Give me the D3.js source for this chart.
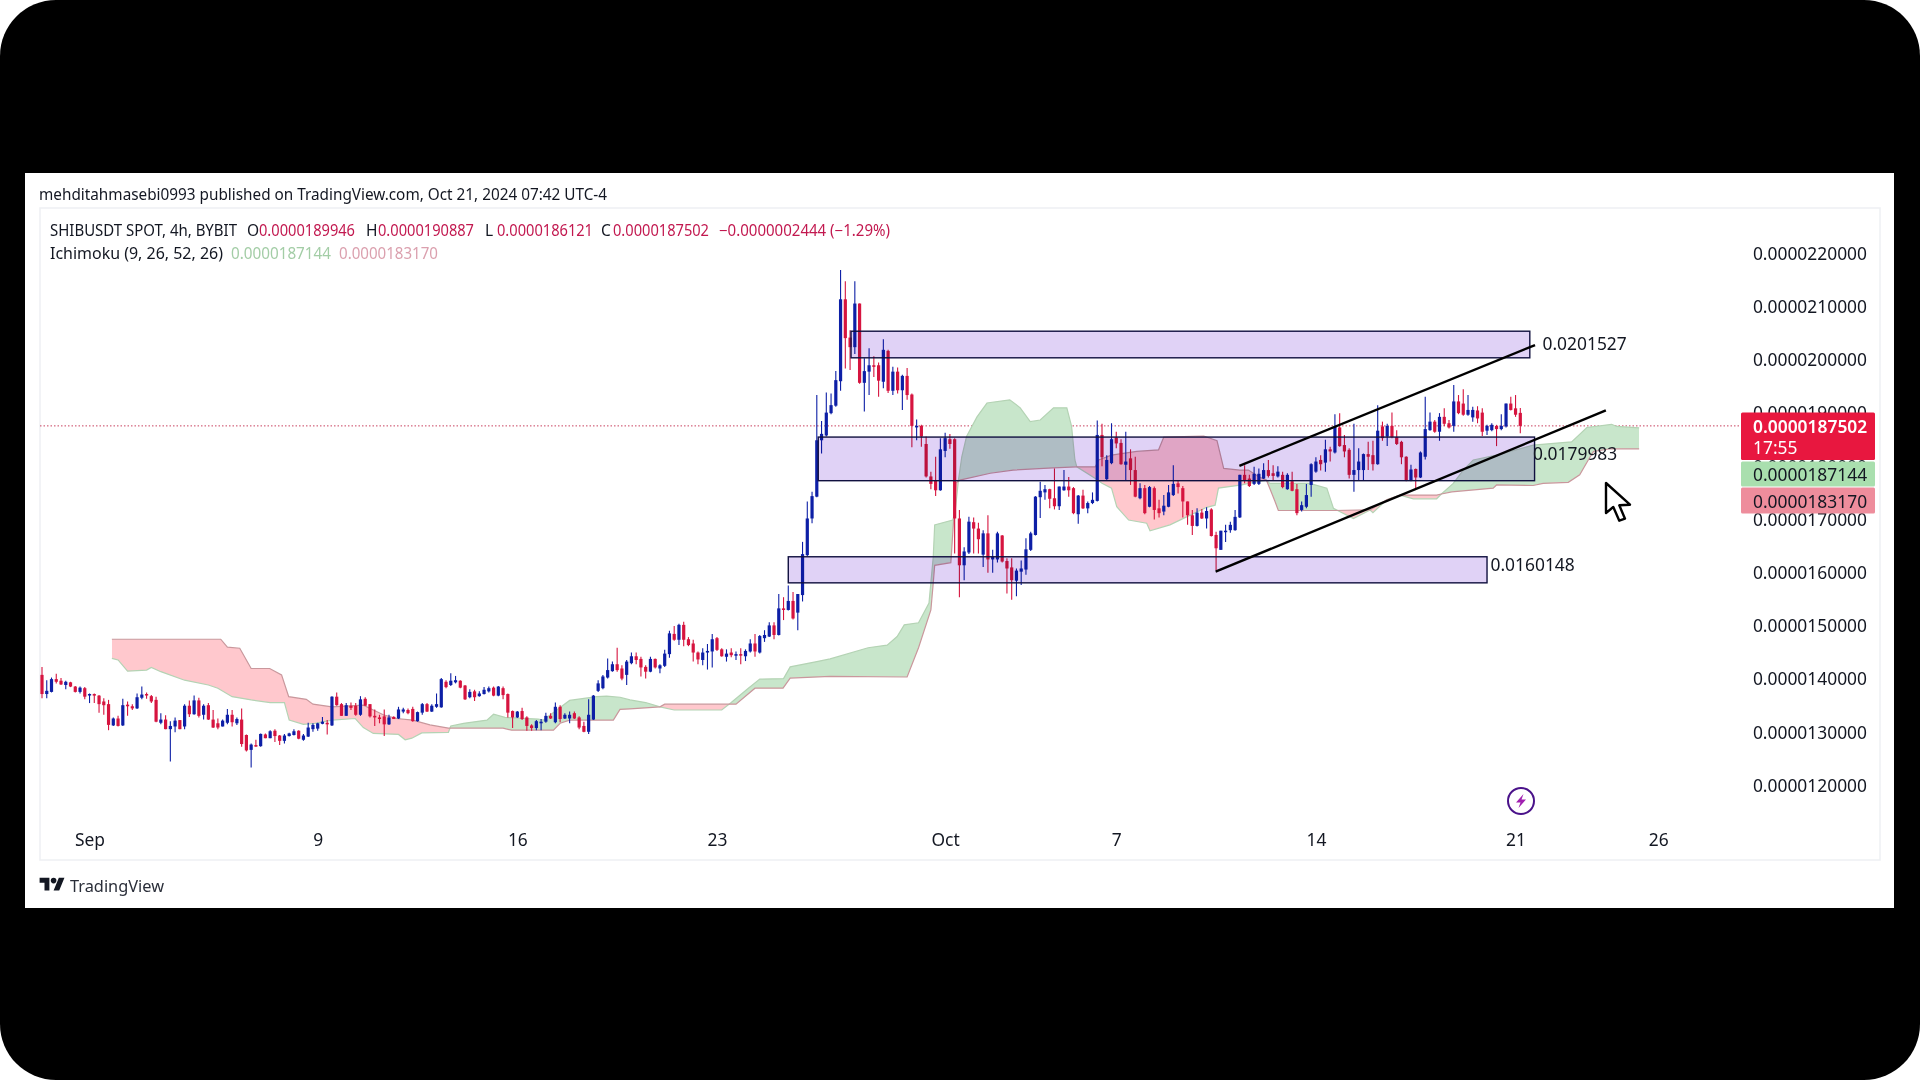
<!DOCTYPE html>
<html>
<head>
<meta charset="utf-8">
<script src="https://cdn.jsdelivr.net/npm/d3@7"></script>
<style>
html, body { margin: 0; padding: 0; background: #fff; }
svg { display: block; }
text { font-family: "Noto Sans", sans-serif; fill: #131722; }
</style>
</head>
<body>
<svg id="chart" width="1920" height="1080"></svg>
<script>
// prices are in millionths, [open, high, low, close], one row per 4h candle
var candlesEarlySep = [
    [14.07,14.22,13.63,13.71],[13.71,13.97,13.63,13.77],[13.75,14.02,13.74,13.99],[13.99,14.09,13.91,13.94],[13.96,14.01,13.88,13.89],
    [13.88,13.96,13.80,13.94],[13.93,13.94,13.84,13.85],[13.85,13.86,13.74,13.75],[13.75,13.85,13.72,13.83],[13.82,13.84,13.61,13.66],
    [13.69,13.72,13.54,13.71],[13.71,13.72,13.54,13.68],[13.68,13.69,13.36,13.52],[13.57,13.63,13.32,13.50],[13.52,13.60,13.03,13.13],
    [13.12,13.27,13.11,13.25],[13.25,13.30,13.10,13.11],[13.12,13.62,13.11,13.50],[13.51,13.57,13.30,13.48],[13.48,13.52,13.41,13.44],
    [13.44,13.72,13.43,13.65],[13.64,13.85,13.61,13.70],[13.71,13.74,13.62,13.69],[13.67,13.69,13.54,13.57],[13.60,13.66,13.18,13.19],
    [13.17,13.35,13.14,13.23],[13.23,13.31,13.05,13.05],[13.05,13.20,12.44,13.11],[13.10,13.27,12.99,13.21],[13.22,13.22,13.05,13.05],
    [13.10,13.52,13.05,13.49],[13.49,13.59,13.28,13.33],[13.33,13.68,13.32,13.59],[13.59,13.64,13.27,13.30],[13.32,13.52,13.23,13.49],
    [13.50,13.54,13.22,13.23],[13.23,13.41,13.07,13.08],[13.16,13.25,13.05,13.08],[13.10,13.23,13.10,13.21],[13.17,13.43,13.14,13.32],
    [13.32,13.41,13.10,13.18],[13.16,13.27,13.13,13.24],[13.23,13.44,12.72,12.77],[12.94,12.95,12.63,12.65],[12.66,12.78,12.33,12.76],
    [12.75,12.85,12.72,12.73],[12.73,12.97,12.72,12.96],[12.95,12.97,12.88,12.88],[12.88,13.03,12.88,13.01],[13.02,13.05,12.81,12.92],
    [12.93,12.94,12.75,12.83],[12.83,12.96,12.78,12.93],[12.92,12.98,12.91,12.97],[12.94,13.05,12.93,13.01],[13.02,13.03,12.86,12.87],
    [12.85,12.96,12.83,12.93],[12.91,13.17,12.90,13.08],[13.05,13.16,13.00,13.13],[13.06,13.17,13.02,13.16],[13.15,13.28,13.14,13.19],
    [13.17,13.22,12.95,13.14]
];
var candlesMidSep = [
    [13.12,13.67,13.11,13.66],[13.66,13.74,13.49,13.50],[13.52,13.54,13.30,13.30],[13.30,13.54,13.30,13.50],[13.49,13.55,13.41,13.45],
    [13.49,13.54,13.30,13.32],[13.32,13.67,13.30,13.61],[13.62,13.65,13.49,13.49],[13.52,13.52,13.27,13.29],[13.30,13.42,13.11,13.27],
    [13.27,13.32,13.16,13.24],[13.29,13.42,12.92,13.14],[13.14,13.32,13.13,13.27],[13.28,13.29,13.24,13.24],[13.25,13.47,13.24,13.42],
    [13.38,13.45,13.35,13.42],[13.41,13.44,13.33,13.35],[13.43,13.47,13.19,13.20],[13.20,13.38,13.19,13.37],[13.36,13.54,13.32,13.52],
    [13.52,13.54,13.37,13.38],[13.38,13.52,13.37,13.49],[13.47,13.72,13.45,13.52],[13.46,14.01,13.45,13.99],[13.94,13.97,13.82,13.84],
    [13.88,14.10,13.86,13.96],[13.93,14.05,13.91,13.97],[13.96,13.97,13.82,13.83],[13.87,13.88,13.60,13.61],[13.65,13.80,13.63,13.75],
    [13.76,13.79,13.58,13.65],[13.67,13.76,13.66,13.72],[13.71,13.84,13.70,13.79],[13.76,13.85,13.74,13.82],[13.83,13.85,13.67,13.68],
    [13.68,13.86,13.67,13.85],[13.82,13.85,13.61,13.69],[13.71,13.72,13.27,13.36],[13.39,13.40,13.07,13.27],[13.27,13.39,13.26,13.38],
    [13.39,13.45,13.22,13.24],[13.27,13.29,13.02,13.11],[13.12,13.14,13.02,13.07],[13.07,13.22,13.03,13.20],[13.16,13.24,13.03,13.19],
    [13.19,13.36,13.17,13.30],[13.30,13.35,13.24,13.25],[13.18,13.55,13.16,13.47],[13.47,13.50,13.18,13.24],[13.25,13.35,13.24,13.32],
    [13.25,13.38,13.16,13.32],[13.35,13.38,13.24,13.25],[13.27,13.29,13.05,13.08],[13.11,13.19,12.99,13.00],[13.00,13.61,12.96,13.32],
    [13.23,13.69,13.22,13.68]
];
var candlesLateSep = [
    [13.77,13.97,13.75,13.91],[13.82,14.07,13.80,14.04],[14.02,14.38,14.00,14.16],[14.14,14.32,14.13,14.27],[14.27,14.58,14.13,14.16],
    [14.19,14.25,13.97,14.00],[14.07,14.35,13.88,14.32],[14.29,14.49,14.27,14.42],[14.42,14.49,14.27,14.35],[14.37,14.41,14.04,14.21],
    [14.22,14.25,14.00,14.13],[14.13,14.41,14.12,14.37],[14.37,14.38,14.19,14.21],[14.19,14.27,14.10,14.25],[14.24,14.54,14.22,14.47],
    [14.46,14.90,14.39,14.85],[14.84,14.99,14.71,14.73],[14.73,15.03,14.63,15.01],[15.01,15.07,14.61,14.73],[14.74,14.78,14.61,14.63],
    [14.66,14.73,14.32,14.49],[14.49,14.51,14.27,14.36],[14.35,14.57,14.25,14.49],[14.49,14.65,14.17,14.52],[14.51,14.84,14.21,14.74],
    [14.76,14.78,14.52,14.54],[14.55,14.57,14.41,14.42],[14.41,14.55,14.32,14.47],[14.49,14.57,14.40,14.44],[14.43,14.51,14.35,14.46],
    [14.46,14.57,14.27,14.44],[14.42,14.55,14.33,14.52],[14.51,14.74,14.49,14.66],[14.66,14.84,14.41,14.51],[14.49,14.82,14.47,14.80],
    [14.76,14.91,14.69,14.82],[14.79,15.06,14.78,15.00],[15.00,15.06,14.74,14.82],[14.82,15.59,14.81,15.32],[15.32,15.53,15.10,15.29],
    [15.29,15.75,15.28,15.46],[15.46,15.63,15.11,15.13],[15.24,15.59,14.91,15.59],[15.57,16.57,15.45,16.34],[16.32,17.33,16.30,17.01]
];
var candlesEarlyOct = [
    [17.01,17.51,16.92,17.43],[17.42,19.33,17.41,18.48],[18.48,18.84,18.23,18.60],[18.57,19.38,18.55,19.00],[18.99,19.36,18.97,19.14],
    [19.13,19.78,19.11,19.61],[19.59,21.68,19.41,21.13],[21.13,21.47,19.83,20.40],[20.41,20.55,19.80,20.23],[20.23,21.47,20.10,21.05],
    [21.05,21.05,19.54,19.56],[19.56,20.02,19.02,19.78],[19.77,20.21,19.33,19.89],[19.89,20.06,19.67,19.86],[19.89,19.94,19.30,19.60],
    [19.58,20.38,19.46,20.18],[20.16,20.18,19.37,19.41],[19.41,19.86,19.33,19.77],[19.77,19.85,19.36,19.42],[19.42,19.71,19.05,19.69],
    [19.69,19.84,19.24,19.33],[19.34,19.36,18.35,18.75],[18.73,18.87,18.48,18.75],[18.75,18.77,18.36,18.55],[18.41,18.55,17.78,17.80],
    [17.80,17.89,17.56,17.66],[17.73,18.17,17.43,17.54],[17.54,18.52,17.53,18.31],[18.28,18.62,18.16,18.52],[18.50,18.60,18.32,18.41],
    [18.50,18.52,16.35,17.01],[17.01,17.17,15.53,16.13],[16.13,16.47,15.85,16.39],[16.37,17.04,16.34,16.95],[16.94,17.03,16.35,16.82],
    [16.82,16.93,16.35,16.62],[16.33,16.79,16.10,16.73],[16.73,17.07,15.99,16.24],[16.24,16.42,15.99,16.29],[16.24,16.76,16.18,16.73],
    [16.69,16.70,16.18,16.20],[16.21,16.26,15.60,16.07],[16.09,16.26,15.48,15.85],[15.84,16.07,15.55,16.03],[16.01,16.22,15.76,16.07],
    [16.05,16.64,15.95,16.43],[16.42,16.76,16.40,16.73],[16.70,17.43,16.69,17.42],[17.41,17.70,17.02,17.53],[17.50,17.64,17.36,17.56],
    [17.56,17.57,17.20,17.38],[17.39,17.95,17.18,17.24],[17.24,17.61,17.17,17.61],[17.54,17.92,17.53,17.61],[17.61,17.79,17.42,17.54]
];
var candlesMidOct = [
    [17.58,17.60,17.09,17.11],[17.09,17.45,16.91,17.44],[17.44,17.55,17.19,17.20],[17.20,17.33,17.11,17.30],[17.30,17.50,17.28,17.36],
    [17.34,18.85,17.33,18.58],[18.58,18.79,17.99,18.16],[17.75,18.20,17.73,18.11],[18.05,18.80,18.03,18.50],[18.53,18.64,18.33,18.42],
    [18.43,18.50,18.02,18.03],[18.02,18.64,17.73,18.08],[18.14,18.31,17.64,17.92],[17.92,18.17,17.41,17.42],[17.39,17.67,17.37,17.58],
    [17.58,17.64,17.09,17.11],[17.23,17.62,17.22,17.60],[17.58,17.61,16.99,17.17],[17.20,17.36,17.03,17.11],[17.14,17.45,17.07,17.25],
    [17.23,17.64,17.22,17.50],[17.45,18.01,17.43,17.66],[17.67,17.73,17.48,17.60],[17.58,17.62,17.03,17.33],[17.33,17.33,16.89,17.07],
    [17.07,17.17,16.70,16.87],[16.87,17.20,16.86,17.12],[17.12,17.19,17.00,17.01],[17.01,17.22,16.82,17.15],[17.18,17.20,16.67,16.68],
    [16.70,16.76,16.04,16.45],[16.42,16.78,16.42,16.78],[16.76,16.89,16.57,16.78],[16.79,16.95,16.74,16.89],[16.79,17.17,16.78,17.04],
    [17.03,17.83,17.02,17.83],[17.83,18.01,17.67,17.73],[17.76,17.83,17.60,17.62],[17.66,17.98,17.64,17.85],[17.66,17.95,17.64,17.85],
    [17.76,18.05,17.75,17.92],[17.92,18.11,17.78,17.81],[17.86,18.01,17.73,17.81],[17.80,17.99,17.78,17.89],[17.83,17.89,17.58,17.60],
    [17.56,17.86,17.55,17.83],[17.71,17.89,17.52,17.53],[17.56,17.66,17.07,17.11]
];
var candlesLateOct = [
    [17.17,17.33,17.14,17.26],[17.23,17.66,17.20,17.45],[17.64,18.05,17.42,18.03],[17.89,18.16,17.87,18.08],[18.11,18.20,17.91,18.03],
    [18.06,18.49,17.89,18.31],[18.31,18.36,18.08,18.27],[18.25,18.97,18.23,18.74],[18.72,18.99,18.36,18.37],[18.39,18.58,18.16,18.27],
    [18.30,18.33,17.76,17.83],[17.83,18.79,17.51,17.92],[17.92,18.33,17.73,18.08],[17.92,18.23,17.72,18.22],[18.22,18.45,17.92,18.17],
    [18.20,18.47,17.91,18.03],[18.03,19.14,18.02,18.66],[18.74,18.83,18.47,18.52],[18.55,18.79,18.37,18.75],[18.75,19.00,18.52,18.54],
    [18.54,18.67,18.39,18.41],[18.45,18.47,18.03,18.16],[18.17,18.18,17.71,17.72],[17.72,18.02,17.71,17.93],[17.94,17.95,17.58,17.78],
    [17.78,18.27,17.77,18.25],[18.17,19.30,18.12,18.69],[18.67,19.00,18.66,18.83],[18.83,18.86,18.62,18.64],[18.64,18.99,18.47,18.92],
    [18.92,19.08,18.75,18.79],[18.80,18.86,18.70,18.72],[18.75,19.52,18.64,19.21],[19.21,19.33,18.97,18.99],[19.17,19.44,18.94,18.96],
    [18.96,19.33,18.94,19.05],[18.91,19.11,18.83,19.05],[19.04,19.12,18.80,18.89],[19.00,19.08,18.56,18.64],[18.66,18.77,18.58,18.75],
    [18.67,18.80,18.65,18.77],[18.75,18.77,18.37,18.69],[18.69,18.97,18.67,18.75],[18.74,19.17,18.72,19.17],[19.17,19.30,19.04,19.05],
    [19.08,19.33,18.92,18.96],[18.9946,19.0887,18.6121,18.7502]
];

// cloud outlines, [candle number, price]
var spanA = [
    [14.7,14.38],[16,14.35],[18,14.14],[22,14.16],[23,14.21],[25,14.13],[30,13.97],[35,13.88],[37,13.82],[40,13.66],
    [44,13.60],[48,13.55],[51,13.55],[52,13.22],[55,13.14],[57.4,13.16],[61,13.22],[65.9,13.25],[67.6,13.08],[69.7,12.97],
    [75,12.95],[76.4,12.85],[77.8,12.88],[79.9,12.98],[85.5,12.99],[86,13.11],[88.7,13.16],[93.6,13.22],[95,13.33],[97.4,13.27],
    [104.4,13.24],[105.5,13.22],[108.3,13.41],[111,13.59],[116.7,13.66],[118.8,13.67],[121.6,13.65],[123.7,13.60],[127,13.55],[130,13.47],
    [133,13.41],[143,13.41],[145,13.55],[148.6,13.82],[151,13.99],[156,14.00],[157.4,14.22],[163,14.32],[165.8,14.37],[173.8,14.58],
    [177.8,14.63],[179.9,14.79],[181.4,15.01],[184.4,15.05],[186.6,15.42],[187.5,16.29],[187.8,16.89],[191.6,16.98],[192.1,17.14],[192.8,17.73],
    [193.5,18.17],[194.5,18.55],[196.7,18.92],[198.8,19.18],[203.6,19.24],[205.8,19.09],[207.9,18.83],[210,18.86],[212.8,19.09],[215.6,19.09],
    [216.6,18.74],[217.3,18.11],[217.7,17.98],[221.6,17.76],[223,17.67],[225,17.58],[226.1,17.23],[228.6,16.98],[232.4,16.92],[233.1,16.78],
    [237.3,16.89],[240.8,17.04],[245,17.22],[246.8,17.26],[247.5,17.58],[252.4,17.64],[253.8,17.67],[257.6,17.73],[258.3,17.67],[266.7,17.67],
    [270.3,17.58],[271.7,17.20],[275.9,17.01],[279.4,17.17],[280,17.12],[282.9,17.36],[285.7,17.45],[288.5,17.38],[293.4,17.38],[294.4,17.47],
    [296.9,17.67],[299,17.92],[301.1,18.11],[306,18.20],[313.7,18.39],[321.8,18.45],[325,18.72],[330.2,18.78],[331.3,18.74],[336,18.7144]
];
var spanB = [
    [14.7,14.74],[37.6,14.74],[39,14.59],[41.6,14.57],[44,14.19],[47.9,14.19],[50.4,14.07],[51.9,13.66],[55.6,13.61],[57,13.52],
    [61,13.47],[67.6,13.50],[69.7,13.41],[71.8,13.32],[74.6,13.25],[78,13.22],[81.6,13.13],[85.5,13.07],[97,13.07],[98.8,13.03],
    [107.6,13.03],[109,13.16],[111,13.22],[120.2,13.22],[121.6,13.42],[123.7,13.43],[130,13.47],[131,13.52],[146,13.52],[150,13.82],
    [155.9,13.82],[157.4,14.01],[165.8,14.04],[182,14.03],[184.4,14.58],[187,15.29],[187.5,15.80],[187.8,16.13],[191.2,16.18],[192.3,17.68],
    [193.1,17.73],[199.5,17.86],[204.3,17.92],[212.7,17.96],[217.7,17.98],[221.6,17.98],[222.3,18.11],[225,18.20],[230.3,18.27],[234.9,18.30],
    [236,18.54],[244.4,18.56],[247.2,18.47],[248.6,17.95],[252,17.92],[253.8,17.92],[255.9,17.80],[257.6,17.73],[259.4,17.33],[260.1,17.16],
    [271.7,17.16],[279.4,17.17],[282.9,17.36],[285.7,17.45],[293.4,17.45],[294.4,17.47],[296.6,17.51],[305.3,17.58],[306,17.64],[313.7,17.63],
    [315.8,17.67],[321.1,17.69],[323.5,17.83],[325.3,18.11],[326.4,18.27],[329.9,18.32],[336,18.317]
];

// drawn zones: [first candle, last candle, top price, bottom price]
var zones = [
    [170.2,313,20.53,20.03],
    [163.3,314,18.54,17.72],
    [157,304,16.29,15.80]
];
// channel lines: [candle, price, candle, price]
var channelLines = [
    [251.9,18.00,314.1,20.27],
    [246.9,16.01,329,19.04]
];
var zoneLabels = ["0.0201527", "0.0179983", "0.0160148"];

var priceTicks = [12, 13, 14, 15, 16, 17, 18, 19, 20, 21, 22];
var dateTicks = ["2024-09-01", "2024-09-09", "2024-09-16", "2024-09-23", "2024-10-01", "2024-10-07", "2024-10-14", "2024-10-21", "2024-10-26"];
var dateLabels = ["Sep", "9", "16", "23", "Oct", "7", "14", "21", "26"];

var lastClose = 18.7502, lastSpanA = 18.7144, lastSpanB = 18.3170;

var candles = [].concat(candlesEarlySep, candlesMidSep, candlesLateSep, candlesEarlyOct, candlesMidOct, candlesLateOct);

var FOUR_HOURS = 4 * 3600 * 1000;
var firstCandle = Date.UTC(2024, 7, 30, 8);
function timeOf(n) { return new Date(firstCandle + n * FOUR_HOURS); }
function priceText(v) { return (v / 1e6).toFixed(10); }

var x = d3.scaleUtc().domain([timeOf(0), timeOf(311)]).range([42, 1520.3]);
var y = d3.scaleLinear().domain([12, 22]).range([785, 253]);
function xn(n) { return x(timeOf(n)); }

var svg = d3.select("#chart");

// video frame and white card
svg.append("rect").attr("width", 1920).attr("height", 1080).attr("rx", 56).attr("fill", "#000");
svg.append("rect").attr("x", 25).attr("y", 173).attr("width", 1869).attr("height", 735).attr("fill", "#fff");
svg.append("rect").attr("x", 40).attr("y", 208).attr("width", 1840).attr("height", 652)
    .attr("fill", "none").attr("stroke", "#eef0f3").attr("stroke-width", 1.5);

function addText(str, px, py, size, color, width) {
    var t = svg.append("text").attr("x", px).attr("y", py).attr("font-size", size)
        .style("fill", color).attr("dominant-baseline", "central").text(str);
    if (width) t.attr("textLength", width).attr("lengthAdjust", "spacingAndGlyphs");
    return t;
}

var INK = "#131722", VALUE_RED = "#c2184f";
addText("mehditahmasebi0993 published on TradingView.com, Oct 21, 2024 07:42 UTC-4", 39, 193.5, 15.5, INK, 568);
addText("SHIBUSDT SPOT, 4h, BYBIT", 50, 230, 15.5, INK, 187);
[["O", "0.0000189946", 247], ["H", "0.0000190887", 366], ["L", "0.0000186121", 485], ["C", "0.0000187502", 601]].forEach(function(d) {
    addText(d[0], d[2], 230, 15.5, INK);
    addText(d[1], d[2] + 12, 230, 15.5, VALUE_RED, 96);
});
addText("\u22120.0000002444 (\u22121.29%)", 719, 230, 15.5, VALUE_RED, 171);
addText("Ichimoku (9, 26, 52, 26)", 50, 252.5, 15.5, INK, 173);
addText(priceText(lastSpanA), 231, 252.5, 15.5, "#a3cda6", 100);
addText(priceText(lastSpanB), 339, 252.5, 15.5, "#dba0ae", 99);

// axes
var yAxis = d3.axisLeft(y).tickValues(priceTicks).tickFormat(priceText).tickSize(0).tickPadding(0);
var yg = svg.append("g").attr("transform", "translate(1867,0.8)").call(yAxis);
yg.select(".domain").remove();
yg.selectAll("text").attr("font-size", 17.4).style("fill", INK);

var tickDates = dateTicks.map(function(s) { return new Date(s + "T00:00:00Z"); });
var xAxis = d3.axisBottom(x).tickValues(tickDates).tickFormat(function(d, i) { return dateLabels[i]; }).tickSize(0).tickPadding(0);
var xg = svg.append("g").attr("transform", "translate(0,834)").call(xAxis);
xg.select(".domain").remove();
xg.selectAll("text").attr("font-size", 17.4).style("fill", INK);

// last price line
svg.append("line").attr("x1", 40).attr("x2", 1741).attr("y1", y(lastClose)).attr("y2", y(lastClose))
    .attr("stroke", "#c8405f").attr("stroke-width", 1).attr("stroke-dasharray", "1.5 2");

// ichimoku cloud, one polygon clipped above and below span B
var line = d3.line().x(function(d) { return xn(d[0]); }).y(function(d) { return y(d[1]); });
var cloudShape = spanA.concat(spanB.slice().reverse());
var firstN = spanB[0][0], lastN = spanB[spanB.length - 1][0];
var defs = svg.append("defs");
defs.append("clipPath").attr("id", "aboveB").append("path")
    .attr("d", line(spanB.concat([[lastN, 30], [firstN, 30]])) + "Z");
defs.append("clipPath").attr("id", "belowB").append("path")
    .attr("d", line(spanB.concat([[lastN, 5], [firstN, 5]])) + "Z");

svg.append("path").attr("d", line(cloudShape) + "Z").attr("fill", "#c8e6cb").attr("clip-path", "url(#aboveB)");
svg.append("path").attr("d", line(cloudShape) + "Z").attr("fill", "#ffc8cd").attr("clip-path", "url(#belowB)");
svg.append("path").attr("d", line(spanA)).attr("fill", "none").attr("stroke", "#b4d3b4").attr("stroke-width", 1.2);
svg.append("path").attr("d", line(spanB)).attr("fill", "none").attr("stroke", "#c9979c").attr("stroke-width", 1.2);

// candles
var BLUE = "#0d1fa6", RED = "#d6143f";
function candleColor(d) { return d[3] >= d[0] ? BLUE : RED; }
var candleG = svg.append("g").selectAll("g").data(candles).enter().append("g");
candleG.append("line")
    .attr("x1", function(d, i) { return xn(i); })
    .attr("x2", function(d, i) { return xn(i); })
    .attr("y1", function(d) { return y(d[1]); })
    .attr("y2", function(d) { return y(d[2]); })
    .attr("stroke", candleColor).attr("stroke-width", 1.1);
candleG.append("rect")
    .attr("x", function(d, i) { return xn(i) - 1.6; })
    .attr("width", 3.2)
    .attr("y", function(d) { return y(Math.max(d[0], d[3])); })
    .attr("height", function(d) { return Math.max(1.5, Math.abs(y(d[0]) - y(d[3]))); })
    .attr("fill", candleColor);

// zones sit on top and tint what is behind them
svg.append("g").selectAll("rect").data(zones).enter().append("rect")
    .attr("x", function(d) { return xn(d[0]); })
    .attr("width", function(d) { return xn(d[1]) - xn(d[0]); })
    .attr("y", function(d) { return y(d[2]); })
    .attr("height", function(d) { return y(d[3]) - y(d[2]); })
    .attr("fill", "#e0d2f6").style("mix-blend-mode", "multiply");
svg.append("g").selectAll("rect").data(zones).enter().append("rect")
    .attr("x", function(d) { return xn(d[0]); })
    .attr("width", function(d) { return xn(d[1]) - xn(d[0]); })
    .attr("y", function(d) { return y(d[2]); })
    .attr("height", function(d) { return y(d[3]) - y(d[2]); })
    .attr("fill", "none").attr("stroke", "#10103f").attr("stroke-width", 1.4);

svg.append("g").selectAll("line").data(channelLines).enter().append("line")
    .attr("x1", function(d) { return xn(d[0]); })
    .attr("y1", function(d) { return y(d[1]); })
    .attr("x2", function(d) { return xn(d[2]); })
    .attr("y2", function(d) { return y(d[3]); })
    .attr("stroke", "#000").attr("stroke-width", 2.4);

addText(zoneLabels[0], 1542.5, 343, 17.4, INK);
addText(zoneLabels[1], 1533, 453, 17.4, INK);
addText(zoneLabels[2], 1490.5, 564, 17.4, INK);

// price badges
function badge(top, h, fill) {
    svg.append("rect").attr("x", 1741).attr("y", top).attr("width", 134).attr("height", h).attr("rx", 1.5).attr("fill", fill);
}
var badgeTop = y(lastClose) - 13.5;
badge(badgeTop, 47.5, "#e8173f");
badge(badgeTop + 49, 25, "#a9dfae");
badge(badgeTop + 75, 26, "#ee8d9c");
addText(priceText(lastClose), 1753, badgeTop + 14, 17.4, "#fff").attr("font-weight", 600);
addText("17:55", 1753, badgeTop + 35, 17.4, "#fff");
addText(priceText(lastSpanA), 1753, badgeTop + 62, 17.4, INK);
addText(priceText(lastSpanB), 1753, badgeTop + 89, 17.4, INK);

// event icon
var bolt = svg.append("g").attr("transform", "translate(1521,801)");
bolt.append("circle").attr("r", 13).attr("fill", "#fff").attr("stroke", "#4a128a").attr("stroke-width", 2);
bolt.append("path").attr("d", "M2.5 -7L-5 1.5H-0.5L-2.5 7L5 -1.5H0.5Z").attr("fill", "#a020b0");

// mouse pointer
svg.append("path").attr("transform", "translate(1606,483)")
    .attr("d", "M0 0V30L7.3 24L13.3 37.7L19 35.7L13.3 22.3L24 21.7Z")
    .attr("fill", "#fff").attr("stroke", "#000").attr("stroke-width", 2.4).attr("stroke-linejoin", "round");

// TradingView mark
var logo = svg.append("g").attr("transform", "translate(39.6,875) scale(0.7)");
logo.append("path").attr("d", "M14 22H7V11H0V4h14v18zM28 22h-8l7.5-18h8L28 22z").attr("fill", "#131722");
logo.append("circle").attr("cx", 20).attr("cy", 8).attr("r", 4).attr("fill", "#131722");
addText("TradingView", 70, 885.5, 16.5, "#2a2e39", 94);
</script>
</body>
</html>
